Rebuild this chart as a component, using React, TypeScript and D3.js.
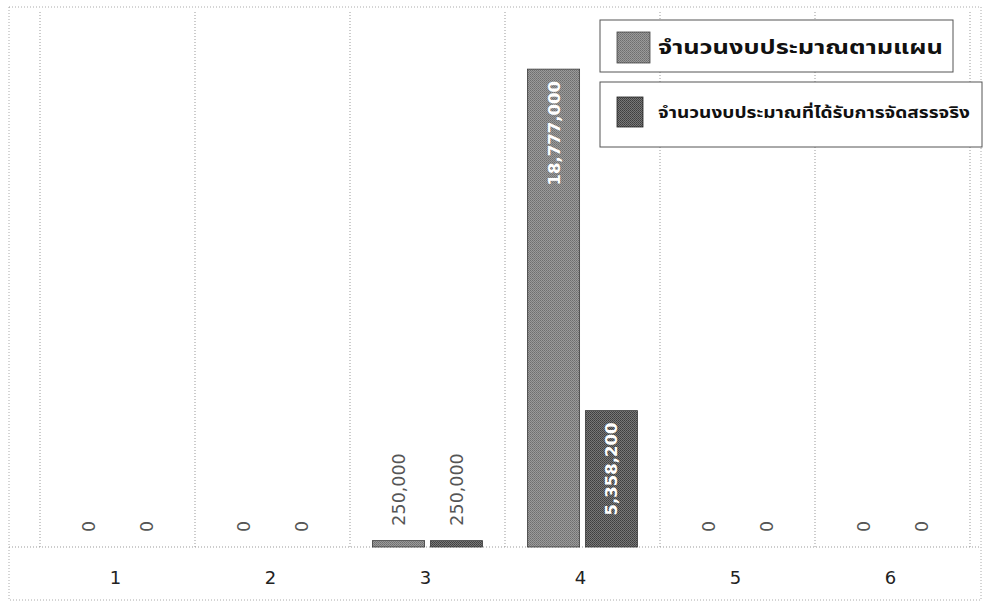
import React from "react";
import * as d3 from "d3";

const categories = ["1", "2", "3", "4", "5", "6"];
const plannedBudget = [0, 0, 250000, 18777000, 0, 0];
const allocatedBudget = [0, 0, 250000, 5358200, 0, 0];
const seriesNames = [
  "จำนวนงบประมาณตามแผน",
  "จำนวนงบประมาณที่ได้รับการจัดสรรจริง",
];

const W = 985;
const H = 603;

export default function App() {
  const x = d3.scaleBand<string>().domain(categories).range([40, 970]).padding(0);
  const inner = d3
    .scaleBand<number>()
    .domain([0, 1])
    .range([22.5, x.bandwidth() - 22.5])
    .paddingInner(0.1)
    .paddingOuter(0);
  const y = d3.scaleLinear().domain([0, 20000000]).range([547, 38]);
  const fmt = d3.format(",");
  const series = [plannedBudget, allocatedBudget];
  const fills = ["url(#pat0)", "url(#pat1)"];
  const numFont = "DejaVu Sans, sans-serif";

  return (
    <svg
      width={W}
      height={H}
      viewBox={`0 0 ${W} ${H}`}
      style={{ position: "absolute", left: 0, top: 0, background: "#fff" }}
    >
      <defs>
        <pattern id="pat0" width="2" height="2" patternUnits="userSpaceOnUse">
          <rect width="2" height="2" fill="#9a9a9a" />
          <rect width="1" height="1" fill="#6e6e6e" />
          <rect x="1" y="1" width="1" height="1" fill="#7a7a7a" />
        </pattern>
        <pattern id="pat1" width="2" height="2" patternUnits="userSpaceOnUse">
          <rect width="2" height="2" fill="#777" />
          <rect width="1" height="1" fill="#3e3e3e" />
          <rect x="1" y="1" width="1" height="1" fill="#4a4a4a" />
        </pattern>
      </defs>

      {/* outer border */}
      <rect x={9} y={7} width={972} height={593} fill="none" stroke="#aaa" strokeWidth={1} strokeDasharray="1,2" />

      {/* category separators */}
      {categories.map((c) => (
        <line
          key={"sep" + c}
          x1={x(c)!}
          x2={x(c)!}
          y1={12}
          y2={547}
          stroke="#999"
          strokeDasharray="1,2"
        />
      ))}
      <line x1={970} x2={970} y1={12} y2={547} stroke="#999" strokeDasharray="1,2" />
      <line x1={9} x2={981} y1={547} y2={547} stroke="#999" strokeDasharray="1,2" />

      {/* bars */}
      {series.map((vals, s) =>
        vals.map((v, i) => {
          const cx = x(categories[i])! + inner(s)!;
          const bw = inner.bandwidth();
          const top = y(v);
          const h = y(0) - top;
          return h > 0 ? (
            <rect
              key={`b${s}-${i}`}
              x={cx}
              y={top}
              width={bw}
              height={h}
              fill={fills[s]}
              stroke="#3a3a3a"
              strokeWidth={0.8}
            />
          ) : null;
        })
      )}

      {/* data labels */}
      {series.map((vals, s) =>
        vals.map((v, i) => {
          const cx = x(categories[i])! + inner(s)! + inner.bandwidth() / 2;
          const top = y(v);
          const insideEnd = v > 1000000;
          const ty = insideEnd ? top + 12 : top - 15;
          return (
            <text
              key={`l${s}-${i}`}
              transform={`translate(${cx},${ty}) rotate(-90)`}
              textAnchor={insideEnd ? "end" : "start"}
              dy="0.36em"
              fontFamily={numFont}
              fontSize={insideEnd ? 16.5 : 17.5}
              fill={insideEnd ? "#fff" : "#555"}
              fontWeight={insideEnd ? "bold" : "normal"}
            >
              {fmt(v)}
            </text>
          );
        })
      )}

      {/* category labels */}
      {categories.map((c) => (
        <text
          key={"c" + c}
          x={x(c)! + x.bandwidth() / 2 - 2}
          y={584}
          textAnchor="middle"
          fontFamily={numFont}
          fontSize={18}
          fill="#222"
        >
          {c}
        </text>
      ))}

      {/* legend */}
      <rect x={600} y={20} width={353} height={52} fill="#fff" stroke="#555" strokeWidth={1} />
      <rect x={617} y={32} width={33} height={31} fill={fills[0]} stroke="#444" strokeWidth={0.8} />
      <text
        x={658}
        y={47}
        dy="0.35em"
        fontFamily="Noto Sans Thai, Loma, Garuda, Tahoma, sans-serif"
        fontSize={20}
        fontWeight="bold"
        fill="#111"
        textLength={285}
        lengthAdjust="spacingAndGlyphs"
      >
        {seriesNames[0]}
      </text>
      <rect x={600} y={82} width={382} height={65} fill="#fff" stroke="#555" strokeWidth={1} />
      <rect x={617} y={97} width={26} height={30} fill={fills[1]} stroke="#222" strokeWidth={0.8} />
      <text
        x={658}
        y={113}
        dy="0.35em"
        fontFamily="Noto Sans Thai, Loma, Garuda, Tahoma, sans-serif"
        fontSize={15}
        fontWeight="bold"
        fill="#111"
        textLength={312}
        lengthAdjust="spacingAndGlyphs"
      >
        {seriesNames[1]}
      </text>
    </svg>
  );
}
